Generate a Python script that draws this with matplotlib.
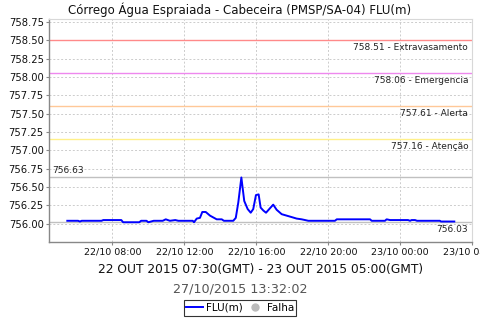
import matplotlib
matplotlib.use("Agg")
import matplotlib.pyplot as plt
from matplotlib.lines import Line2D

# ---- data (hours since 22/10 00:00 local) ----
times = [5.5, 6.1, 6.2, 6.3, 7.4, 7.5, 8.5, 8.6, 9.5, 9.6, 9.9, 10.0, 10.3, 10.8,
         10.97, 11.2, 11.5, 11.67, 12.47, 12.54, 12.69, 12.87, 13.0, 13.19, 13.43,
         13.8, 14.08, 14.2, 14.72, 14.86, 15.0, 15.17, 15.33, 15.52, 15.69, 15.83,
         15.98, 16.13, 16.24, 16.39, 16.54, 16.72, 16.94, 17.13, 17.41, 17.69,
         17.97, 18.24, 18.52, 18.71, 18.89, 20.37, 20.47, 22.32, 22.41, 23.15,
         23.24, 23.43, 24.43, 24.54, 24.63, 24.82, 24.93, 26.2, 26.26, 27.0]
levels = [756.04, 756.04, 756.03, 756.04, 756.04, 756.05, 756.05, 756.02, 756.02,
          756.04, 756.04, 756.02, 756.04, 756.04, 756.06, 756.04, 756.05, 756.04,
          756.04, 756.02, 756.07, 756.08, 756.16, 756.16, 756.11, 756.06, 756.06,
          756.04, 756.04, 756.08, 756.29, 756.63, 756.31, 756.20, 756.15, 756.20,
          756.39, 756.40, 756.22, 756.18, 756.15, 756.20, 756.26, 756.19, 756.13,
          756.11, 756.09, 756.07, 756.06, 756.05, 756.04, 756.04, 756.06, 756.06,
          756.04, 756.04, 756.06, 756.05, 756.05, 756.04, 756.05, 756.05, 756.04,
          756.04, 756.03, 756.03]

thr_values = [758.51, 758.06, 757.61, 757.16]
thr_names = ["Extravasamento", "Emergencia", "Alerta", "Atenção"]
thr_colors = ["#ff8a8a", "#ee88ee", "#ffc898", "#fff08a"]

max_label = 756.63
last_label = 756.03

xtick_pos = [8, 12, 16, 20, 24, 28]
xtick_labels = ["22/10 08:00", "22/10 12:00", "22/10 16:00", "22/10 20:00",
                "23/10 00:00", "23/10 04:00"]
ytick_pos = [756.00, 756.25, 756.50, 756.75, 757.00, 757.25, 757.50, 757.75,
             758.00, 758.25, 758.50, 758.75]

title = "Córrego Água Espraiada - Cabeceira (PMSP/SA-04) FLU(m)"
period = "22 OUT 2015 07:30(GMT) - 23 OUT 2015 05:00(GMT)"
stamp = "27/10/2015 13:32:02"

# ---- figure ----
fig = plt.figure(figsize=(4.8, 3.2), dpi=100)
ax = fig.add_axes([49.3 / 480, 1 - 241.7 / 320, (472.3 - 49.3) / 480, (241.7 - 19) / 320])

ax.set_xlim(4.5, 28.0)
ax.set_ylim(755.755, 758.79)

ax.set_xticks(xtick_pos)
ax.set_xticklabels(xtick_labels, fontsize=6.8)
ax.set_yticks(ytick_pos)
ax.set_yticklabels([f"{v:.2f}" for v in ytick_pos], fontsize=7.2)
ax.tick_params(length=2, width=0.8, color="#888888", pad=2, labelcolor="#111111")

ax.grid(True, color="#cccccc", linestyle=(0, (2, 2)), linewidth=0.7)
ax.set_axisbelow(True)

for s in ["left", "bottom"]:
    ax.spines[s].set_color("#888888")
    ax.spines[s].set_linewidth(1.0)
for s in ["top", "right"]:
    ax.spines[s].set_color("#d8d8d8")
    ax.spines[s].set_linewidth(0.8)

for v, n, c in zip(thr_values, thr_names, thr_colors):
    ax.axhline(v, color=c, lw=1.0)
    ax.annotate(f"{v:.2f} - {n}", xy=(1, v), xycoords=("axes fraction", "data"),
                xytext=(-3, -6), textcoords="offset points", ha="right", va="center",
                fontsize=6.5, color="#222222")

ax.axhline(max_label, color="#c0c0c0", lw=1.0)
ax.annotate(f"{max_label:.2f}", xy=(0, max_label), xycoords=("axes fraction", "data"),
            xytext=(2, 5), textcoords="offset points", ha="left", va="center",
            fontsize=6.5, color="#222222")
ax.axhline(last_label, color="#c0c0c0", lw=1.0)
ax.annotate(f"{last_label:.2f}", xy=(1, last_label), xycoords=("axes fraction", "data"),
            xytext=(-3, -6), textcoords="offset points", ha="right", va="center",
            fontsize=6.5, color="#222222")

ax.plot(times, levels, color="#0000ff", lw=1.4, zorder=5)

fig.text(0.5, 1 - 9.5 / 320, title, ha="center", va="center", fontsize=8.5, color="#111111")
fig.text(260.8 / 480, 1 - 269 / 320, period, ha="center", va="center", fontsize=8.8,
         color="#111111")
fig.text(0.5, 1 - 289 / 320, stamp, ha="center", va="center", fontsize=9.2, color="#555555")

handles = [Line2D([], [], color="#0000ff", lw=1.4),
           Line2D([], [], marker="o", linestyle="none", color="#bbbbbb", markersize=5)]
leg = fig.legend(handles, ["FLU(m)", "Falha"], loc="center", bbox_to_anchor=(0.5, 1 - 308 / 320),
                 ncol=2, fontsize=7.5, frameon=True, fancybox=False, handlelength=1.6,
                 handletextpad=0.3, columnspacing=0.4, borderpad=0.25, borderaxespad=0)
leg.get_frame().set_edgecolor("black")
leg.get_frame().set_linewidth(0.8)

fig.savefig("out.png", dpi=100)
